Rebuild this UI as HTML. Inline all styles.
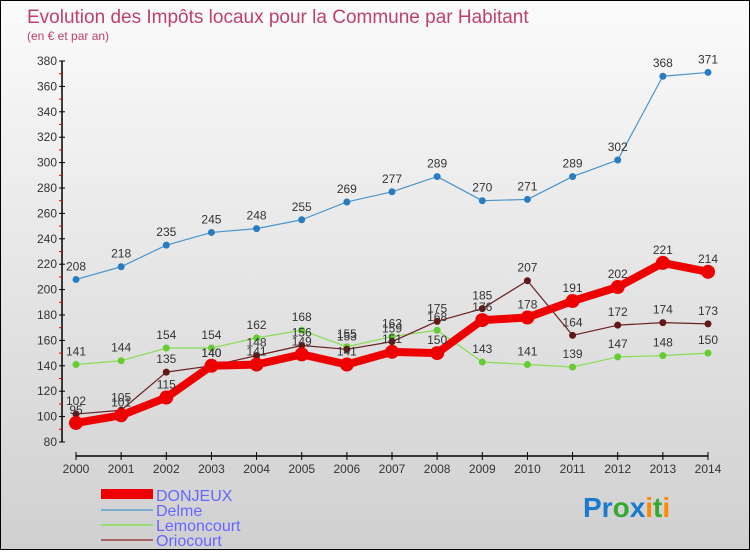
<!DOCTYPE html>
<html><head><meta charset="utf-8"><style>
body{margin:0;width:750px;height:550px;overflow:hidden;font-family:"Liberation Sans",sans-serif}
#wrap{position:relative;width:748px;height:548px;border:1px solid #000;background:linear-gradient(#fbfbfb,#d0d0d0)}
svg text{font-family:"Liberation Sans",sans-serif}
</style></head><body>
<div id="wrap">
<svg id="chart" width="748" height="548">
<text x="26" y="22" font-size="19" fill="#c0406a">Evolution des Impôts locaux pour la Commune par Habitant</text>
<text x="26" y="39" font-size="12" fill="#c0406a">(en € et par an)</text>
<g id="axes"></g><g id="series"></g>
<g>
<rect x="100" y="488" width="52" height="10" fill="#ee0000"/>
<text x="155" y="500" font-size="16" fill="#6666ff">DONJEUX</text>
<rect x="100" y="508" width="52" height="2" fill="#7aaed0"/>
<text x="155" y="515" font-size="16" fill="#6666ff">Delme</text>
<rect x="100" y="523" width="52" height="2" fill="#99dd77"/>
<text x="155" y="530" font-size="16" fill="#6666ff">Lemoncourt</text>
<rect x="100" y="538" width="52" height="2" fill="#aa6666"/>
<text x="155" y="545" font-size="16" fill="#6666ff">Oriocourt</text>
</g>
<text x="582" y="516" font-size="28" font-weight="bold"><tspan fill="#1a7acc">Pr</tspan><tspan fill="#33aa33">o</tspan><tspan fill="#1a7acc">x</tspan><tspan fill="#ff8800">i</tspan><tspan fill="#33aa33">t</tspan><tspan fill="#ff8800">i</tspan></text>
</svg></div>
<script>
const years=[2000,2001,2002,2003,2004,2005,2006,2007,2008,2009,2010,2011,2012,2013,2014];
const donjeux=[95,101,115,140,141,149,141,151,150,176,178,191,202,221,214];
const delme=[208,218,235,245,248,255,269,277,289,270,271,289,302,368,371];
const lemoncourt=[141,144,154,154,162,168,155,163,168,143,141,139,147,148,150];
const oriocourt=[102,105,135,140,148,156,153,159,175,185,207,164,172,174,173];
const yTicks=[80,100,120,140,160,180,200,220,240,260,280,300,320,340,360,380];
const NS="http://www.w3.org/2000/svg";
const x=i=>75+i*(632/14);
const y=v=>441-(v-80)*(381/300);
function mk(t,a,p){const e=document.createElementNS(NS,t);for(const k in a)e.setAttribute(k,a[k]);p.appendChild(e);return e;}
const ax=document.getElementById('axes');
const yl=mk('line',{x1:61,y1:60,x2:61,y2:441,stroke:'#000','stroke-width':1.5},ax);


const xl=mk('line',{x1:75,y1:455,x2:707,y2:455,stroke:'#000','stroke-width':1.5},ax);


yTicks.forEach((v,i)=>{
 mk('line',{x1:58,x2:64,y1:y(v),y2:y(v),stroke:'#000'},ax);
 if(i<yTicks.length-1) mk('line',{x1:58,x2:61,y1:y(v+10),y2:y(v+10),stroke:'#ee0000'},ax);
 const t=mk('text',{x:56,y:y(v)+4,'font-size':12,'text-anchor':'end',fill:'#333'},ax);
 t.textContent=v;
 
 
});
years.forEach((yr,i)=>{
 mk('line',{x1:x(i),x2:x(i),y1:451,y2:459,stroke:'#000'},ax);
 const t=mk('text',{x:x(i),y:472,'font-size':12,'text-anchor':'middle',fill:'#333'},ax);
 t.textContent=yr;
 
 
});
const sg=document.getElementById('series');
function series(data,name,color,dot,w,r){
 const g=mk('g',{},sg);
 
 
 mk('polyline',{points:data.map((v,i)=>x(i)+','+y(v)).join(' '),fill:'none',stroke:color,'stroke-width':w,'stroke-linejoin':'round'},g);
 data.forEach((v,i)=>{
  const c=mk('circle',{cx:x(i),cy:y(v),r:r,fill:dot},g);
  
  
  const t=mk('text',{x:x(i),y:y(v)-9,'font-size':12,'text-anchor':'middle',fill:'#333'},g);
  t.textContent=v;
  
  
 });
}
series(delme,'delme','#4a94cc','#2a7cc0',1.2,3.5);
series(lemoncourt,'lemoncourt','#88dd55','#66cc33',1.2,3.5);
series(oriocourt,'oriocourt','#6a2020','#601818',1.2,3.5);
series(donjeux,'donjeux','#ee0000','#ee0000',8,7);
</script>
</body></html>
